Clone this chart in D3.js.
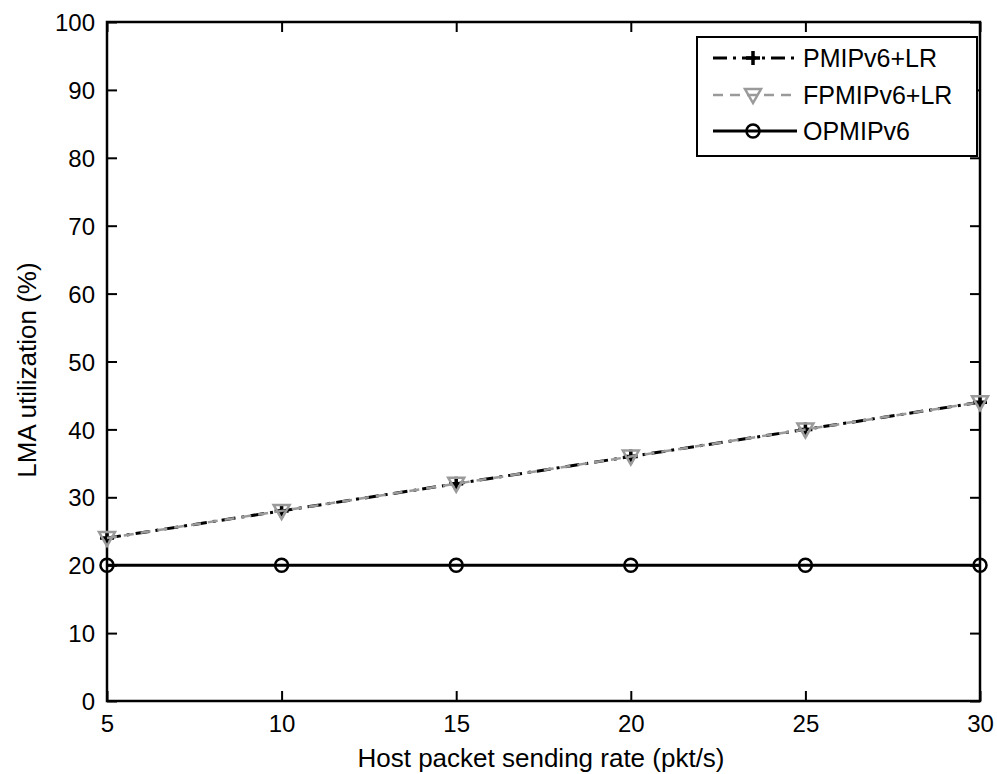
<!DOCTYPE html>
<html><head><meta charset="utf-8">
<script src="https://cdn.jsdelivr.net/npm/d3@7"></script>
<style>body{margin:0;background:#fff}svg{display:block}text{font-family:Arial,"Liberation Sans",sans-serif;fill:#000}</style>
</head><body>
<script>
const xValues = [5, 10, 15, 20, 25, 30];
const pmipLR = [24, 28, 32, 36, 40, 44];
const fpmipLR = [24, 28, 32, 36, 40, 44];
const opmip = [20, 20, 20, 20, 20, 20];
const seriesNames = ["PMIPv6+LR", "FPMIPv6+LR", "OPMIPv6"];
const xTicks = [5, 10, 15, 20, 25, 30];
const yTicks = [0, 10, 20, 30, 40, 50, 60, 70, 80, 90, 100];
const xLabel = "Host packet sending rate (pkt/s)";
const yLabel = "LMA utilization (%)";

const W = 997, H = 774;
const L = 107, R = 980, T = 22, B = 701;
const svg = d3.select("body").append("svg").attr("width", W).attr("height", H);
const x = d3.scaleLinear().domain([5, 30]).range([L, R]);
const y = d3.scaleLinear().domain([0, 100]).range([B, T]);

const tl = 10;
const tickFont = 24;
svg.append("g").attr("transform", `translate(0,${B})`)
  .call(d3.axisBottom(x).tickValues(xTicks).tickSizeInner(-tl).tickSizeOuter(0).tickPadding(14))
  .call(g => { g.select(".domain").remove(); g.selectAll("line").attr("stroke", "#000").attr("stroke-width", 2);
    g.selectAll("text").attr("font-size", tickFont).attr("font-family", "Arial, Liberation Sans, sans-serif").attr("fill", "#000"); });
svg.append("g").attr("transform", `translate(0,${T})`)
  .call(d3.axisTop(x).tickValues(xTicks).tickSizeInner(-tl).tickSizeOuter(0).tickFormat(""))
  .call(g => { g.select(".domain").remove(); g.selectAll("line").attr("stroke", "#000").attr("stroke-width", 2); });
svg.append("g").attr("transform", `translate(${L},0)`)
  .call(d3.axisLeft(y).tickValues(yTicks).tickSizeInner(-tl).tickSizeOuter(0).tickPadding(12))
  .call(g => { g.select(".domain").remove(); g.selectAll("line").attr("stroke", "#000").attr("stroke-width", 2);
    g.selectAll("text").attr("font-size", tickFont).attr("font-family", "Arial, Liberation Sans, sans-serif").attr("fill", "#000").attr("dy", "0.36em"); });
svg.append("g").attr("transform", `translate(${R},0)`)
  .call(d3.axisRight(y).tickValues(yTicks).tickSizeInner(-tl).tickSizeOuter(0).tickFormat(""))
  .call(g => { g.select(".domain").remove(); g.selectAll("line").attr("stroke", "#000").attr("stroke-width", 2); });

svg.append("rect").attr("x", L).attr("y", T).attr("width", R - L).attr("height", B - T)
  .attr("fill", "none").attr("stroke", "#000").attr("stroke-width", 2.5);

const line = d3.line().x((d, i) => x(xValues[i])).y(d => y(d));
const gray = "#9a9a9a";
const styles = [
  { data: pmipLR, color: "#000", dash: "14,6,3,6", width: 3 },
  { data: fpmipLR, color: gray, dash: "10,7", width: 2.5 },
  { data: opmip, color: "#000", dash: null, width: 3 }
];
function marker(g, k, cx, cy) {
  if (k === 0) {
    g.append("path").attr("d", `M${cx-7},${cy}H${cx+7}M${cx},${cy-7}V${cy+7}`)
      .attr("stroke", "#000").attr("stroke-width", 3.5);
  } else if (k === 1) {
    g.append("path").attr("d", `M${cx-8},${cy-6}L${cx+8},${cy-6}L${cx},${cy+8}Z`)
      .attr("fill", "none").attr("stroke", gray).attr("stroke-width", 2.5);
  } else {
    g.append("circle").attr("cx", cx).attr("cy", cy).attr("r", 6.5)
      .attr("fill", "none").attr("stroke", "#000").attr("stroke-width", 2.5);
  }
}
styles.forEach((s, k) => {
  svg.append("path").attr("d", line(s.data)).attr("fill", "none").attr("stroke", s.color)
    .attr("stroke-width", s.width).attr("stroke-dasharray", s.dash);
  const g = svg.append("g");
  s.data.forEach((v, i) => marker(g, k, x(xValues[i]), y(v)));
});

const lg = svg.append("g");
lg.append("rect").attr("x", 697).attr("y", 37).attr("width", 280).attr("height", 119)
  .attr("fill", "#fff").attr("stroke", "#000").attr("stroke-width", 2);
const rowsY = [58, 95, 131];
styles.forEach((s, k) => {
  const yy = rowsY[k];
  lg.append("line").attr("x1", 713).attr("x2", 797).attr("y1", yy).attr("y2", yy)
    .attr("stroke", s.color).attr("stroke-width", s.width).attr("stroke-dasharray", s.dash);
  marker(lg, k, 753, yy);
  lg.append("text").attr("x", 803).attr("y", yy + 9).attr("font-size", 25).text(seriesNames[k]);
});

svg.append("text").attr("x", 541).attr("y", 767).attr("text-anchor", "middle").attr("font-size", 26).text(xLabel);
svg.append("text").attr("transform", "translate(36,370) rotate(-90)").attr("text-anchor", "middle").attr("font-size", 26).text(yLabel);
</script>
</body></html>
